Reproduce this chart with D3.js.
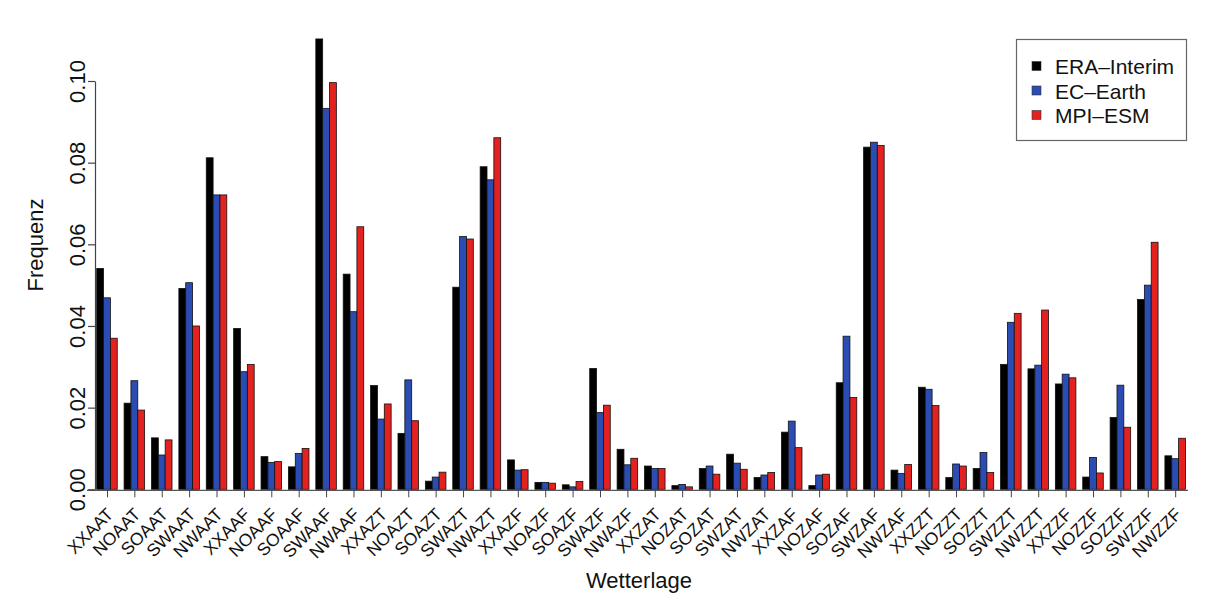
<!DOCTYPE html>
<html>
<head>
<meta charset="utf-8">
<script src="https://cdn.jsdelivr.net/npm/d3@7"></script>
<style>
  html, body { margin: 0; padding: 0; background: #ffffff; }
  svg { display: block; }
  text { font-family: "Liberation Sans", Arial, Helvetica, sans-serif; fill: #111; }
</style>
</head>
<body>
<svg id="chart" width="1211" height="608"></svg>
<script>
// ---- data ----
const categories = ["XXAAT","NOAAT","SOAAT","SWAAT","NWAAT","XXAAF","NOAAF","SOAAF","SWAAF","NWAAF",
  "XXAZT","NOAZT","SOAZT","SWAZT","NWAZT","XXAZF","NOAZF","SOAZF","SWAZF","NWAZF",
  "XXZAT","NOZAT","SOZAT","SWZAT","NWZAT","XXZAF","NOZAF","SOZAF","SWZAF","NWZAF",
  "XXZZT","NOZZT","SOZZT","SWZZT","NWZZT","XXZZF","NOZZF","SOZZF","SWZZF","NWZZF"];
const seriesNames = ["ERA–Interim","EC–Earth","MPI–ESM"];
const eraInterim = [0.0541,0.0211,0.0126,0.0492,0.0812,0.0394,0.0080,0.0055,0.1103,0.0527,
  0.0254,0.0137,0.0020,0.0495,0.0790,0.0072,0.0017,0.0011,0.0296,0.0098,
  0.0057,0.0009,0.0051,0.0086,0.0029,0.0140,0.0009,0.0261,0.0838,0.0047,
  0.0250,0.0029,0.0051,0.0306,0.0295,0.0258,0.0030,0.0176,0.0465,0.0082];
const ecEarth = [0.0469,0.0266,0.0084,0.0506,0.0721,0.0288,0.0066,0.0088,0.0933,0.0435,
  0.0172,0.0268,0.0030,0.0619,0.0758,0.0047,0.0017,0.0006,0.0188,0.0060,
  0.0051,0.0012,0.0057,0.0064,0.0035,0.0167,0.0035,0.0375,0.0850,0.0039,
  0.0245,0.0062,0.0090,0.0409,0.0304,0.0282,0.0078,0.0255,0.0500,0.0075];
const mpiEsm = [0.0370,0.0194,0.0121,0.0400,0.0721,0.0306,0.0068,0.0100,0.0996,0.0643,
  0.0209,0.0168,0.0042,0.0613,0.0861,0.0048,0.0015,0.0019,0.0206,0.0076,
  0.0051,0.0006,0.0037,0.0049,0.0041,0.0102,0.0037,0.0225,0.0842,0.0061,
  0.0205,0.0057,0.0041,0.0431,0.0439,0.0273,0.0040,0.0152,0.0605,0.0125];
const seriesColors = ["#000000","#2b4cb3","#e32220"];
const yTicks = [0.00,0.02,0.04,0.06,0.08,0.10];
const xTitle = "Wetterlage";
const yTitle = "Frequenz";

// ---- layout ----
const svg = d3.select("#chart");
const allSeries = [eraInterim, ecEarth, mpiEsm];

const x0 = d3.scaleBand().domain(categories).range([89.85, 1185.45]).paddingInner(0).paddingOuter(0);
const step = x0.step();
const x1 = d3.scaleBand().domain(seriesNames).range([step * 0.25, step]).padding(0);
const y = d3.scaleLinear().domain([0, 0.10]).range([489.3, 81]);
const center = c => x0(c) + step * 0.625;

// bars
const groups = svg.append("g").selectAll("g")
  .data(categories)
  .join("g")
  .attr("transform", c => `translate(${x0(c)},0)`);

groups.selectAll("rect")
  .data((c, i) => seriesNames.map((s, k) => ({ s, k, v: allSeries[k][i] })))
  .join("rect")
  .attr("x", d => x1(d.s))
  .attr("width", x1.bandwidth())
  .attr("y", d => y(d.v))
  .attr("height", d => y(0) - y(d.v))
  .attr("fill", d => seriesColors[d.k])
  .attr("stroke", "#111")
  .attr("stroke-width", 0.8);

// x baseline and ticks
svg.append("line")
  .attr("x1", 87).attr("x2", 1188)
  .attr("y1", y(0) + 1).attr("y2", y(0) + 1)
  .attr("stroke", "#555").attr("stroke-width", 1.2);

const xAxis = d3.axisBottom(d3.scalePoint().domain(categories).range([center(categories[0]), center(categories[categories.length - 1])]))
  .tickSize(7).tickSizeOuter(0).tickFormat("");
const gx = svg.append("g").attr("transform", `translate(0,${y(0) + 1})`).call(xAxis);
gx.select(".domain").remove();
gx.selectAll(".tick line").attr("stroke", "#444").attr("stroke-width", 1);

svg.append("g").selectAll("text")
  .data(categories)
  .join("text")
  .attr("transform", c => `translate(${center(c) + 3},${511}) rotate(-45)`)
  .attr("text-anchor", "end")
  .attr("dy", "0.35em")
  .style("font-size", "17.5px")
  .text(c => c);

// y axis
const yAxis = d3.axisLeft(y).tickValues(yTicks).tickSize(7).tickSizeOuter(0).tickFormat(d3.format(".2f"));
const gy = svg.append("g").attr("transform", "translate(95,0)").call(yAxis);
gy.select(".domain").attr("stroke", "#444").attr("stroke-width", 1.2);
gy.selectAll(".tick line").attr("stroke", "#444").attr("stroke-width", 1.2);
gy.selectAll(".tick text")
  .attr("x", null).attr("dy", "0.35em")
  .attr("transform", "translate(-17.5,0) rotate(-90)")
  .attr("text-anchor", "middle")
  .style("font-size", "22px")
  .style("font-family", "'Liberation Sans', Arial, sans-serif")
  .attr("fill", "#111");

// titles
svg.append("text")
  .attr("transform", "translate(43,245) rotate(-90)")
  .attr("text-anchor", "middle")
  .style("font-size", "22px")
  .text(yTitle);
svg.append("text")
  .attr("x", 639).attr("y", 588)
  .attr("text-anchor", "middle")
  .style("font-size", "22px")
  .text(xTitle);

// legend
const lg = svg.append("g");
lg.append("rect")
  .attr("x", 1016.5).attr("y", 39.5).attr("width", 170).attr("height", 101)
  .attr("fill", "#fff").attr("stroke", "#666").attr("stroke-width", 1.2);
const items = lg.selectAll("g.item").data(seriesNames).join("g")
  .attr("class", "item")
  .attr("transform", (d, i) => `translate(0,${74 + i * 24.5})`);
items.append("rect")
  .attr("x", 1032).attr("y", -12.5).attr("width", 9).attr("height", 9)
  .attr("fill", (d, i) => seriesColors[i]).attr("stroke", "#333").attr("stroke-width", 0.6);
items.append("text")
  .attr("x", 1055).attr("y", 0)
  .style("font-size", "21px")
  .text(d => d);
</script>
</body>
</html>
